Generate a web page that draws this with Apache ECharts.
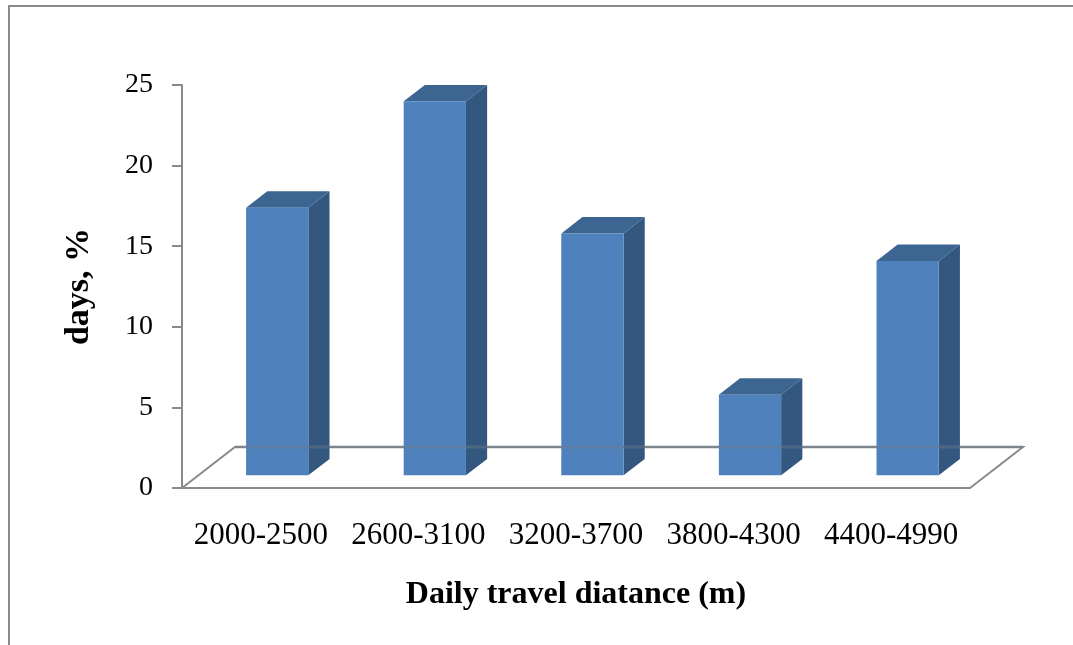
<!DOCTYPE html>
<html>
<head>
<meta charset="utf-8">
<script src="https://cdn.jsdelivr.net/npm/echarts@6/dist/echarts.min.js"></script>
<style>
  html, body { margin: 0; padding: 0; background: #ffffff; }
  #chart { width: 1073px; height: 645px; }
</style>
</head>
<body>
<div id="chart"></div>
<script>
// Share of days by daily travel distance
const categories = ['2000-2500', '2600-3100', '3200-3700', '3800-4300', '4400-4990'];
const dayShares = [16.6, 23.2, 15.0, 5.0, 13.3];
const valueTicks = [0, 5, 10, 15, 20, 25];

const FONT = "'Liberation Serif', 'Times New Roman', serif";
const AXIS_GREY = '#8a8a8a';

// Oblique depth of the floor, as a fraction of one category band
const FLOOR_DX = 0.336;
const FLOOR_DY = -0.26;
// Where the columns sit inside the floor depth, and how deep they are
const BAR_FRONT = 0.31;
const BAR_DEPTH = 0.40;
const BAR_WIDTH = 0.395;

const chart = echarts.init(document.getElementById('chart'), null, { renderer: 'canvas' });

function floorShape(params, overlay) {
  const cs = params.coordSys;
  const band = cs.width / categories.length;
  const dx = band * FLOOR_DX, dy = band * FLOOR_DY;
  const x0 = cs.x, x1 = cs.x + cs.width, y0 = cs.y + cs.height;
  if (overlay) {
    return {
      type: 'line',
      shape: { x1: x0 + dx, y1: y0 + dy, x2: x1 + dx, y2: y0 + dy },
      style: { stroke: '#6f7c8c', lineWidth: 3, opacity: 0.45 },
      z2: 50
    };
  }
  return {
    type: 'polyline',
    shape: { points: [[x0, y0], [x0 + dx, y0 + dy], [x1 + dx, y0 + dy], [x1, y0]] },
    style: { stroke: AXIS_GREY, lineWidth: 2, fill: null }
  };
}

function renderColumn(params, api) {
  const i = api.value(0), v = api.value(1);
  const base = api.coord([i, 0]);
  const top = api.coord([i, v]);
  const band = api.size([1, 0])[0];
  const fdx = band * FLOOR_DX, fdy = band * FLOOR_DY;
  const ox = fdx * BAR_FRONT, oy = fdy * BAR_FRONT;
  const dx = fdx * BAR_DEPTH, dy = fdy * BAR_DEPTH;
  const w = band * BAR_WIDTH;
  const cx = base[0] + ox;
  const left = cx - w / 2, right = cx + w / 2;
  const bottom = base[1] + oy, topY = top[1] + oy;
  return {
    type: 'group',
    children: [
      {
        type: 'polygon',
        shape: { points: [[right, topY], [right + dx, topY + dy], [right + dx, bottom + dy], [right, bottom]] },
        style: { fill: '#34577f' }
      },
      {
        type: 'polygon',
        shape: { points: [[left, topY], [right, topY], [right + dx, topY + dy], [left + dx, topY + dy]] },
        style: { fill: '#3c6592' }
      },
      {
        type: 'rect',
        shape: { x: left, y: topY, width: w, height: bottom - topY },
        style: { fill: '#4f81bd' }
      }
    ]
  };
}

const option = {
  backgroundColor: '#ffffff',
  animation: false,
  graphic: [
    {
      type: 'rect',
      shape: { x: 9, y: 6, width: 1200, height: 800 },
      style: { fill: null, stroke: AXIS_GREY, lineWidth: 2 },
      silent: true
    }
  ],
  grid: { left: 182, top: 85, width: 788, height: 403, containLabel: false },
  xAxis: {
    type: 'category',
    data: categories,
    name: 'Daily travel diatance (m)',
    nameLocation: 'middle',
    nameGap: 91,
    nameTextStyle: { fontFamily: FONT, fontSize: 32, fontWeight: 'bold', color: '#000' },
    axisLine: { show: true, lineStyle: { color: AXIS_GREY, width: 2 } },
    axisTick: { show: false },
    axisLabel: { fontFamily: FONT, fontSize: 31, color: '#000', margin: 32, interval: 0 },
    splitLine: { show: false }
  },
  yAxis: {
    type: 'value',
    min: valueTicks[0],
    max: valueTicks[valueTicks.length - 1],
    interval: valueTicks[1] - valueTicks[0],
    name: 'days, %',
    nameLocation: 'middle',
    nameRotate: 90,
    nameGap: 86,
    nameTextStyle: { fontFamily: FONT, fontSize: 34, fontWeight: 'bold', color: '#000' },
    axisLine: { show: true, lineStyle: { color: AXIS_GREY, width: 2 } },
    axisTick: { show: true, length: 10, lineStyle: { color: AXIS_GREY, width: 2 } },
    axisLabel: { fontFamily: FONT, fontSize: 28, color: '#000', margin: 29 },
    splitLine: { show: false }
  },
  series: [
    {
      type: 'custom',
      name: 'floor',
      silent: true,
      z: 1,
      data: [[0, 0]],
      renderItem: function (params) { return floorShape(params, false); }
    },
    {
      type: 'custom',
      name: 'days',
      z: 2,
      data: dayShares.map(function (v, i) { return [i, v]; }),
      encode: { x: 0, y: 1 },
      renderItem: renderColumn
    },
    {
      type: 'custom',
      name: 'floor-back',
      silent: true,
      z: 3,
      data: [[0, 0]],
      renderItem: function (params) { return floorShape(params, true); }
    }
  ]
};

chart.setOption(option);
</script>
</body>
</html>
